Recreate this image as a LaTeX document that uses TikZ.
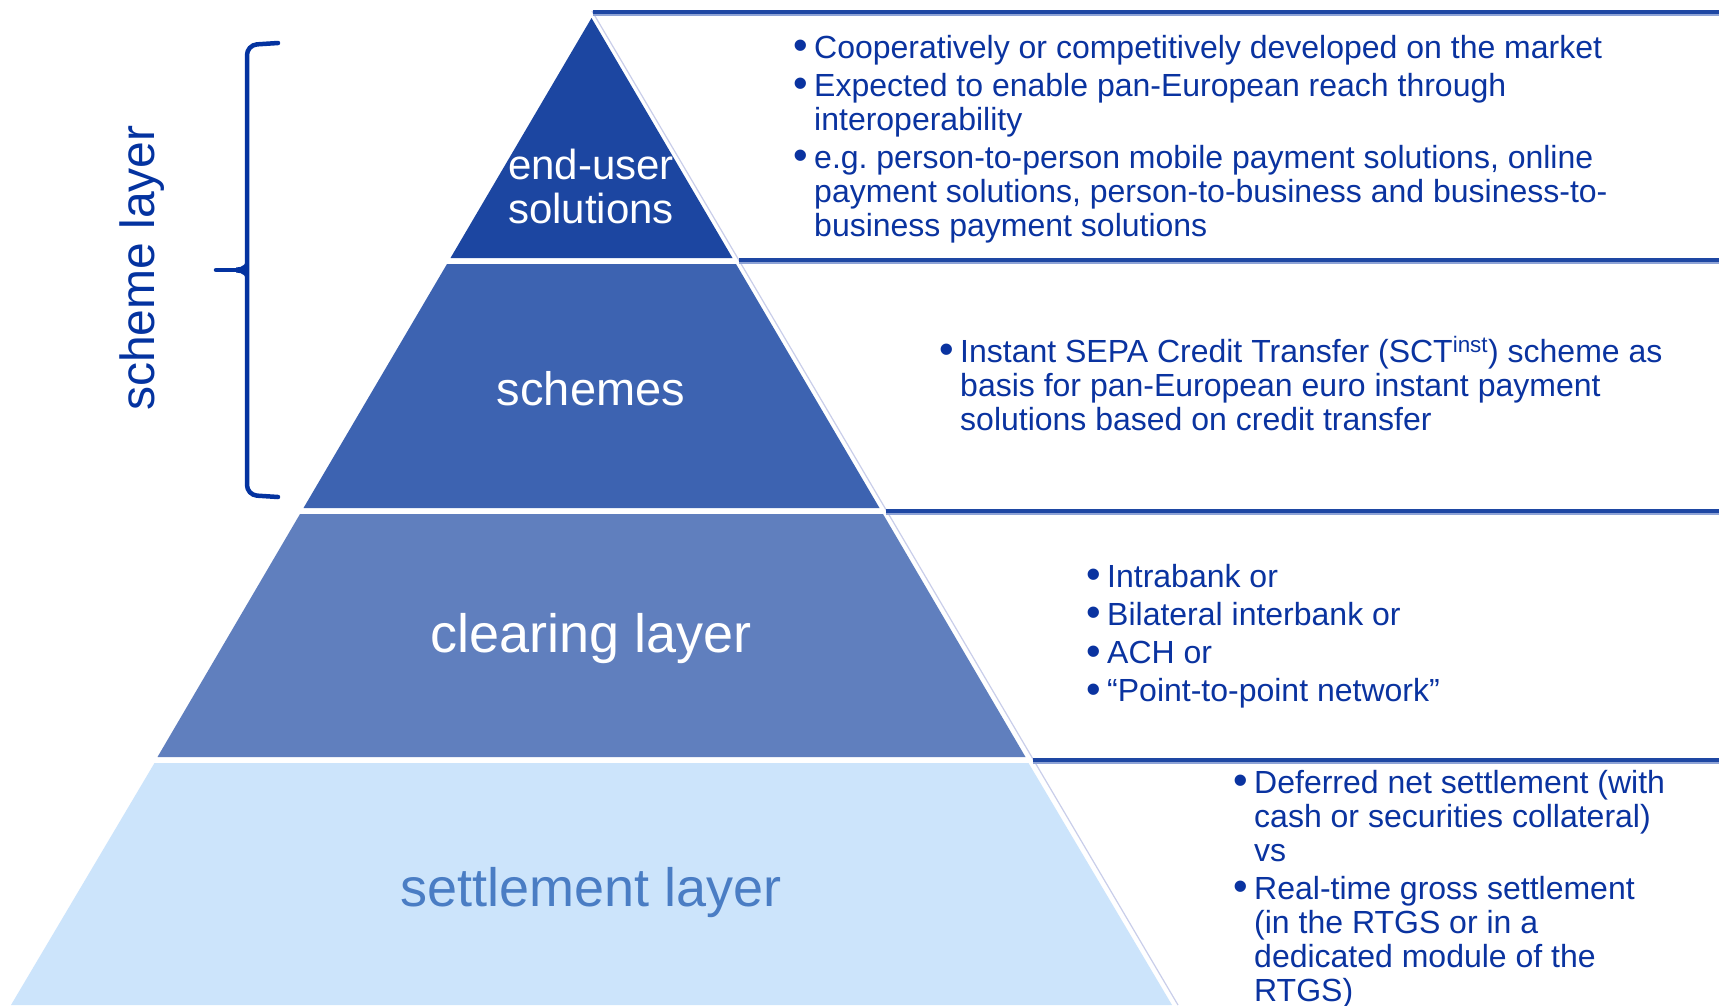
\documentclass[tikz,border=0pt]{standalone}
\usepackage{fontspec}
\setmainfont{Liberation Sans}
\definecolor{tierA}{HTML}{1C46A1}
\definecolor{tierB}{HTML}{3D63B1}
\definecolor{tierC}{HTML}{607FBE}
\definecolor{tierD}{HTML}{CCE4FB}
\definecolor{ecbtext}{HTML}{0A33A0}
\definecolor{bracecol}{HTML}{0433A0}
\definecolor{rulecol}{HTML}{1E47A3}
\definecolor{rulelight}{HTML}{8EA3D6}
\definecolor{edgecol}{HTML}{C9CEEA}
\definecolor{settl}{HTML}{4A7DC4}
\newcommand{\mybullet}{\makebox[21pt][l]{\raisebox{-1.5pt}{\scalebox{1.3}{•}}}}
\begin{document}
\begin{tikzpicture}[x=1pt,y=-1pt,
  hrule/.style={draw=rulecol,line width=4.4pt},
  hrulelight/.style={draw=rulelight,line width=1.4pt},
  bracestyle/.style={draw=bracecol,line width=4.5pt,line cap=round},
  lbl/.style={text=white,inner sep=0pt},
  bultext/.style={anchor=base west,inner sep=0pt,text=ecbtext,font=\fontsize{32}{34}\selectfont},
]
\fill[white] (0,0) rectangle (1719,1005);
\useasboundingbox (0,0) rectangle (1719,1005);

% pyramid tiers
\fill[tierA] (591.5,18) -- (732.5,258) -- (450.5,258) -- cycle;
\fill[tierB] (447,264) -- (736,264) -- (879.5,508) -- (303.5,508) -- cycle;
\fill[tierC] (300,514) -- (883,514) -- (1025.5,757) -- (157.5,757) -- cycle;
\fill[tierD] (154.5,763) -- (1028.5,763) -- (1172,1005) -- (11,1005) -- cycle;

% edge of the text panels
\coordinate (e0) at (592,11);
\coordinate (e4) at (1178,1005);
\draw[edgecol,line width=1.2pt] (e0) -- (e4);

% horizontal rules
\coordinate (r1a) at (593,12);   \coordinate (r1b) at (1719,12);
\coordinate (r2a) at (739,260);  \coordinate (r2b) at (1719,260);
\coordinate (r3a) at (886,511);  \coordinate (r3b) at (1719,511);
\coordinate (r4a) at (1033,760); \coordinate (r4b) at (1719,760);
\foreach \a/\b in {r1a/r1b,r2a/r2b,r3a/r3b,r4a/r4b}{
  \draw[hrule] (\a) -- (\b);
  \draw[hrulelight] ([yshift=-2.8pt]\a) -- ([yshift=-2.8pt]\b);
}

% tier labels
\node[lbl,align=center,font=\fontsize{42}{44}\selectfont] (eu) at (591,186) {end-user\\solutions};
\node[lbl,anchor=base,font=\fontsize{47}{50}\selectfont] (sc) at (591,405) {schemes};
\node[lbl,anchor=base,font=\fontsize{54}{56}\selectfont] (cl) at (591,652) {clearing layer};
\node[lbl,anchor=base,text=settl,font=\fontsize{54}{56}\selectfont] (st) at (591,906) {settlement layer};

% brace and scheme layer
\draw[bracestyle,rounded corners=10pt] (278,43) -- (247,45) -- (247,495) -- (278,497);
\draw[bracestyle] (216,270) -- (240,270);
\fill[bracecol] (236,267.5) .. controls (243,267.5) and (247,264) .. (247,256) -- (247,284) .. controls (247,276) and (243,272.5) .. (236,272.5) -- cycle;
\node[rotate=90,anchor=base,inner sep=0pt,text=bracecol,font=\fontsize{48}{50}\selectfont] (sl) at (154,268) {scheme layer};

% text panels
\node[bultext] (t1) at (793,58) {\begin{tabular}[t]{@{}l@{}l@{}}
\mybullet & Cooperatively or competitively developed on the market\\[4pt]
\mybullet & Expected to enable pan-European reach through\\
 & interoperability\\[4pt]
\mybullet & e.g.\ person-to-person mobile payment solutions, online\\
 & payment solutions, person-to-business and business-to-\\
 & business payment solutions
\end{tabular}};

\node[bultext] (t2) at (939,362) {\begin{tabular}[t]{@{}l@{}l@{}}
\mybullet & Instant SEPA Credit Transfer (SCT\textsuperscript{inst}) scheme as\\
 & basis for pan-European euro instant payment\\
 & solutions based on credit transfer
\end{tabular}};

\node[bultext] (t3) at (1086,587) {\begin{tabular}[t]{@{}l@{}l@{}}
\mybullet & Intrabank or\\[4.3pt]
\mybullet & Bilateral interbank or\\[4.3pt]
\mybullet & ACH or\\[4.3pt]
\mybullet & “Point-to-point network”
\end{tabular}};

\node[bultext] (t4) at (1233,793) {\begin{tabular}[t]{@{}l@{}l@{}}
\mybullet & Deferred net settlement (with\\
 & cash or securities collateral)\\
 & vs\\[4pt]
\mybullet & Real-time gross settlement\\
 & (in the RTGS or in a\\
 & dedicated module of the\\
 & RTGS)
\end{tabular}};
\end{tikzpicture}
\end{document}
